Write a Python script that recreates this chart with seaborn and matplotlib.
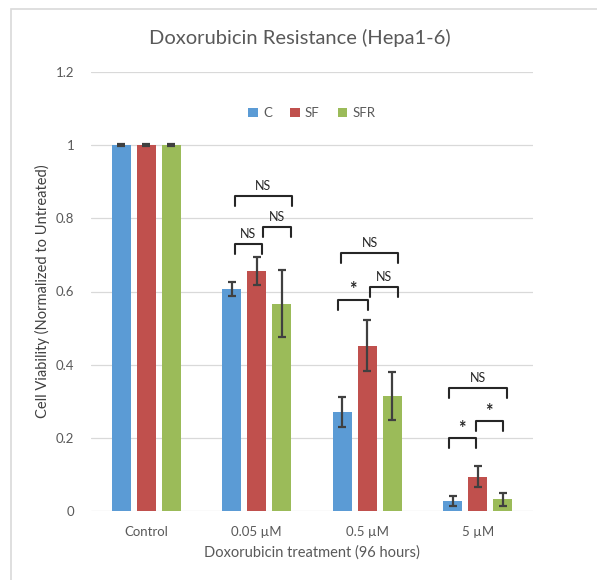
import matplotlib
matplotlib.use("Agg")
import matplotlib.pyplot as plt
import seaborn as sns
import pandas as pd
import numpy as np
from matplotlib.patches import Rectangle

# --- data -------------------------------------------------------------
categories = ["Control", "0.05 µM", "0.5 µM", "5 µM"]
groups = ["C", "SF", "SFR"]

c_mean = [1.0, 0.607, 0.270, 0.028]
c_err = [0.003, 0.020, 0.041, 0.014]
sf_mean = [1.0, 0.655, 0.452, 0.094]
sf_err = [0.003, 0.038, 0.070, 0.029]
sfr_mean = [1.0, 0.567, 0.314, 0.032]
sfr_err = [0.003, 0.092, 0.065, 0.018]

yticks = [0, 0.2, 0.4, 0.6, 0.8, 1.0, 1.2]
ytick_labels = ["0", "0.2", "0.4", "0.6", "0.8", "1", "1.2"]

# significance brackets: (category, left, right, height, label)
brackets = [
    (1, -0.200, 0.317, 0.861, "NS"),
    (1, -0.200, 0.045, 0.730, "NS"),
    (1, 0.054, 0.308, 0.776, "NS"),
    (2, -0.235, 0.280, 0.705, "NS"),
    (2, -0.262, 0.009, 0.577, "*"),
    (2, 0.027, 0.280, 0.612, "NS"),
    (3, -0.262, 0.262, 0.336, "NS"),
    (3, -0.262, -0.018, 0.199, "*"),
    (3, -0.018, 0.226, 0.246, "*"),
]

colors = ["#5B9BD5", "#C0504D", "#9BBB59"]

means = [c_mean, sf_mean, sfr_mean]
errs = [c_err, sf_err, sfr_err]
df = pd.DataFrame({
    "treatment": np.tile(categories, len(groups)),
    "group": np.repeat(groups, len(categories)),
    "viability": np.concatenate(means),
    "err": np.concatenate(errs),
})

# --- figure -------------------------------------------------------------
sns.set_theme(style="white")
plt.rcParams["font.family"] = ["Lato", "DejaVu Sans"]

fig = plt.figure(figsize=(5.97, 5.80), dpi=100)
ax = fig.add_axes([91 / 597, (580 - 511) / 580, (533 - 91) / 597, (511 - 72) / 580])

# outer chart frame
fig.patches.append(Rectangle((11 / 597, -0.05), 1.2, (580 - 9) / 580 + 0.05,
                             transform=fig.transFigure, fill=False,
                             edgecolor="#D9D9D9", linewidth=1.2, zorder=0))

sns.barplot(data=df, x="treatment", y="viability", hue="group",
            order=categories, hue_order=groups, palette=colors,
            errorbar=None, width=0.68, gap=0.24, saturation=1,
            linewidth=0, ax=ax, zorder=3)

# error bars from the drawn bar positions
for cont, e in zip(ax.containers, errs):
    xs = [b.get_x() + b.get_width() / 2 for b in cont]
    hs = [b.get_height() for b in cont]
    ax.errorbar(xs, hs, yerr=e, fmt="none", ecolor="#404040",
                elinewidth=1.6, capsize=3.2, capthick=1.6, zorder=4)

# significance brackets
leg = 0.028
for cat, x0, x1, h, lab in brackets:
    ax.plot([cat + x0, cat + x0, cat + x1, cat + x1],
            [h - leg, h, h, h - leg], color="#262626", lw=1.5,
            solid_capstyle="round", solid_joinstyle="round", zorder=5,
            clip_on=False)
    if lab == "*":
        ax.text(cat + (x0 + x1) / 2, h + 0.004, "*", ha="center", va="bottom",
                fontsize=13, fontweight="bold", color="#262626")
    else:
        ax.text(cat + (x0 + x1) / 2, h + 0.012, lab, ha="center", va="bottom",
                fontsize=9, color="#262626")

ax.set_ylim(0, 1.2)
ax.set_xlim(-0.5, 3.5)
ax.set_yticks(yticks)
ax.set_yticklabels(ytick_labels)
ax.yaxis.grid(True, color="#D9D9D9", linewidth=0.9)
ax.set_axisbelow(True)
for s in ax.spines.values():
    s.set_visible(False)
ax.tick_params(axis="both", length=0, labelsize=9.5, labelcolor="#595959")
ax.tick_params(axis="y", pad=12)
ax.tick_params(axis="x", pad=11)

ax.set_xlabel("Doxorubicin treatment (96 hours)", fontsize=10.5,
              color="#595959", labelpad=5)
ax.set_ylabel("Cell Viability (Normalized to Untreated)", fontsize=10.5,
              color="#404040", labelpad=4)

fig.text(300 / 597, 1 - 38 / 580, "Doxorubicin Resistance (Hepa1-6)",
         fontsize=14.5, color="#595959", ha="center", va="center")

lg = ax.legend(loc="center", bbox_to_anchor=(0.5, (511 - 113) / 439),
               ncol=3, frameon=False, handlelength=0.7, handleheight=0.7,
               handletextpad=0.4, columnspacing=1.4, fontsize=9.5)
for t in lg.get_texts():
    t.set_color("#595959")

fig.savefig("out.png", dpi=100)
